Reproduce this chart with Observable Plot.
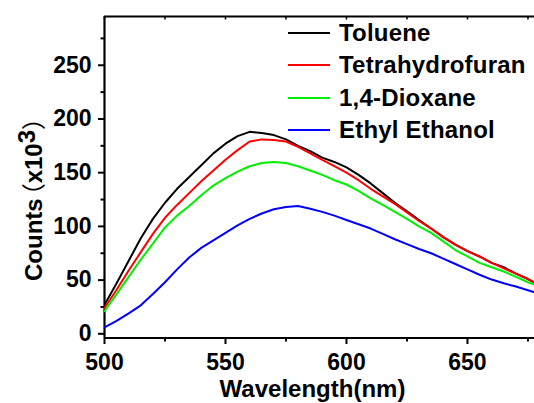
<!DOCTYPE html>
<html><head><meta charset="utf-8">
<script src="https://cdn.jsdelivr.net/npm/d3@7"></script>
<script src="https://cdn.jsdelivr.net/npm/@observablehq/plot@0.6"></script>
<style>
html,body{margin:0;padding:0;background:#fff;}
#chart{position:relative;width:534px;height:403px;overflow:hidden;}
.legend{position:absolute;left:288px;top:17px;font-family:"Liberation Sans",Arial,sans-serif;font-weight:bold;font-size:24px;letter-spacing:0.2px;color:#000;}
.row{display:flex;align-items:center;height:32.3px;white-space:nowrap;}
.sw{width:42px;height:2px;margin-right:9px;flex:none;}
</style></head><body><div id="chart"></div>
<script>
const wavelengths = [500,505,510,515,520,525,530,535,540,545,550,555,560,565,570,575,580,585,590,595,600,605,610,615,620,625,630,635,640,645,650,655,660,665,670,675,678];
const toluene = [27,47,68,89,107,122,135,146,157,168,177,184,188,187,185,181,175,170,164,160,155,148,140,131,122,114,106,98,90,83,77,72,66,62,56,51,47.5];
const thf = [24,41,59,76,93,108,120,131,142,152,162,171,179,181,180.5,179,174,168,162,156,150,143,135,128,121,113,105,98,90,83,77,72,66,61,56,51,47];
const dioxane = [21,37,53,69,84,99,110,119,129,138,145,151,156,159,160,159,156,152,148,143,139,133,126,120,113.5,107,100,94,86,78,72,66,62,58,53,48,45.5];
const ethylEthanol = [6,12,19,26.5,37,48,60,71,80,87,94,101,107,112,116,118,119,116.5,113.5,110,106,102,98,93,88,83.5,79,75,70,65,60,55,50.5,47,44,40.5,38.5];
const seriesNames = ["Toluene","Tetrahydrofuran","1,4-Dioxane","Ethyl Ethanol"];
const seriesColors = ["#000000","#ff0000","#00f000","#0000ff"];
const xMajor = [500,550,600,650];
const xMinor = [525,575,625,675];
const yMajor = [0,50,100,150,200,250];
const yMinor = [25,75,125,175,225,275];
const xTitle = "Wavelength(nm)";

const seriesValues = [toluene, thf, dioxane, ethylEthanol];
const rows = [];
seriesNames.forEach((s, i) => wavelengths.forEach((w, j) => rows.push({series: s, wl: w, v: seriesValues[i][j]})));

const font = "'Liberation Sans', Arial, sans-serif";
const plot = Plot.plot({
  width: 534, height: 403,
  marginLeft: 104, marginRight: 0, marginTop: 16, marginBottom: 65.5,
  x: {domain: [500, 677.7]},
  y: {domain: [-3.9, 295.4]},
  color: {domain: seriesNames, range: seriesColors},
  style: {fontFamily: font, fontWeight: "bold", background: "white", color: "black"},
  marks: [
    Plot.axisY(yMajor, {tickSize: 6, tickPadding: 7, fontSize: 23, fontWeight: "bold", strokeWidth: 2, label: null}),
    Plot.axisY(yMinor, {tickSize: 3.5, text: null, strokeWidth: 2, label: null}),
    Plot.axisX(xMajor, {tickSize: 6.5, tickPadding: 9, fontSize: 23, fontWeight: "bold", strokeWidth: 2, label: null}),
    Plot.axisX(xMinor, {tickSize: 4, text: null, strokeWidth: 2, label: null}),
    Plot.axisX(xMajor.concat(xMinor), {anchor: "top", tickSize: -2.5, text: null, strokeWidth: 1.5, label: null}),
    Plot.ruleX([500], {strokeWidth: 2.2}),
    Plot.ruleY([-3.9], {strokeWidth: 2.2}),
    Plot.ruleY([295.4], {strokeWidth: 2}),
    Plot.line(rows, {x: "wl", y: "v", z: "series", stroke: "series", strokeWidth: 2, clip: true}),
    Plot.text([xTitle], {frameAnchor: "bottom", dx: -7, dy: 58.5, lineAnchor: "bottom", fontSize: 24, fontWeight: "bold", fill: "black"})
  ]
});

// y-axis title with superscript
const yt = d3.select(plot).append("text")
  .attr("transform", "translate(41.5,281) rotate(-90)")
  .attr("text-anchor", "start")
  .attr("font-size", 24).attr("font-weight", "bold").attr("font-family", font).attr("fill", "black");
yt.append("tspan").text("Counts");
yt.append("tspan").attr("dx", -9).attr("font-family", "'Noto Sans CJK SC', sans-serif").attr("font-weight", "normal").text("（");
yt.append("tspan").text("x10");
yt.append("tspan").attr("dy", -7).text("3");
yt.append("tspan").attr("dy", 7).attr("font-family", "'Noto Sans CJK SC', sans-serif").attr("font-weight", "normal").text("）");

const chart = document.getElementById("chart");
chart.appendChild(plot);

const legend = document.createElement("div");
legend.className = "legend";
seriesNames.forEach((s, i) => {
  const r = document.createElement("div"); r.className = "row";
  const sw = document.createElement("span"); sw.className = "sw"; sw.style.background = seriesColors[i];
  const t = document.createElement("span"); t.textContent = s;
  r.appendChild(sw); r.appendChild(t); legend.appendChild(r);
});
chart.appendChild(legend);
</script></body></html>
